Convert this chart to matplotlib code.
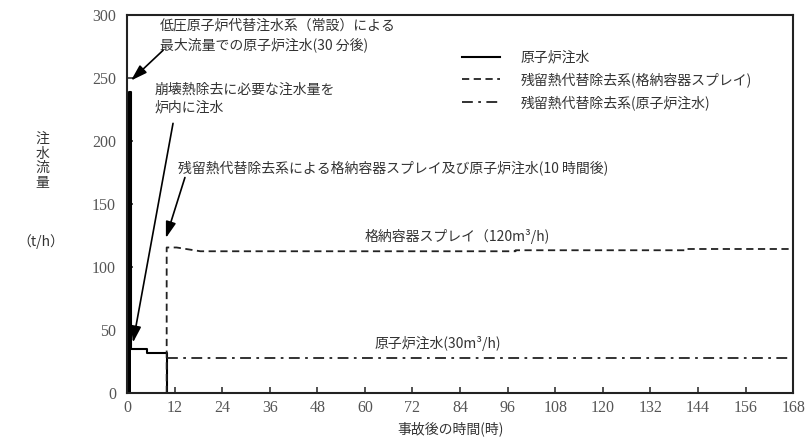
import matplotlib
matplotlib.use("Agg")
import matplotlib.pyplot as plt

plt.rcParams['font.family'] = ['Noto Sans CJK JP', 'DejaVu Sans']

# 原子炉注水 (solid)
t_rpv = [0, 0.5, 0.5, 1.0, 1.0, 5.0, 5.0, 10.0, 10.0]
q_rpv = [0, 0, 239, 239, 35, 35, 31.5, 31.5, 0]

# 残留熱代替除去系 (格納容器スプレイ)
t_spray = [10, 10, 12.5, 18.5, 98, 98, 141, 141, 168]
q_spray = [0, 115.5, 115.5, 112.5, 112.5, 113.3, 113.3, 114.3, 114.3]

# 残留熱代替除去系 (原子炉注水)
t_rhr = [10, 168]
q_rhr = [28, 28]

xticks = list(range(0, 169, 12))
yticks = [0, 50, 100, 150, 200, 250, 300]

fig = plt.figure(figsize=(8.05, 4.41), dpi=100)
ax = fig.add_axes([0.1578, 0.1088, 0.8274, 0.8572])

ax.plot(t_rpv, q_rpv, color='black', lw=1.5, label='原子炉注水')
ax.plot(t_spray, q_spray, color='#222222', lw=1.3, ls=(0, (4, 2.5)),
        label='残留熱代替除去系(格納容器スプレイ)')
ax.plot(t_rhr, q_rhr, color='#222222', lw=1.3, ls=(0, (6, 3, 1.5, 3)),
        label='残留熱代替除去系(原子炉注水)')
# thick bar for max flow
ax.fill_between([0.2, 1.0], 0, 239, color='black', lw=0)

ax.set_xlim(0, 168)
ax.set_ylim(0, 300)
ax.set_xticks(xticks)
ax.set_yticks(yticks)
ax.tick_params(direction='in', length=4, width=1.2, labelsize=11.5,
               colors='#333333')
ax.tick_params(axis='y', pad=8)
ax.tick_params(axis='x', pad=5)
for lab in ax.get_xticklabels() + ax.get_yticklabels():
    lab.set_family('Liberation Serif')
    lab.set_color('#555555')
for s in ax.spines.values():
    s.set_linewidth(1.5)
    s.set_color('#222222')

fs = 10
tc = '#333333'
arrow = dict(arrowstyle='-|>,head_length=0.7,head_width=0.22', color='black',
             lw=1.2, mutation_scale=14, shrinkA=0, shrinkB=0)

ax.text(8.3, 297, '低圧原子炉代替注水系（常設）による\n最大流量での原子炉注水(30 分後)',
        fontsize=fs, color=tc, va='top', ha='left', linespacing=1.35)
ax.annotate('', xy=(1.0, 248), xytext=(9.1, 272), arrowprops=arrow)
ax.text(7.0, 246, '崩壊熱除去に必要な注水量を\n炉内に注水',
        fontsize=fs, color=tc, va='top', ha='left', linespacing=1.35)
ax.annotate('', xy=(1.5, 40), xytext=(11.6, 214), arrowprops=arrow)
ax.text(12.9, 185, '残留熱代替除去系による格納容器スプレイ及び原子炉注水(10 時間後)',
        fontsize=fs, color=tc, va='top', ha='left')
ax.annotate('', xy=(9.8, 123), xytext=(14.6, 171), arrowprops=arrow)
ax.text(60, 124, '格納容器スプレイ（120m³/h)', fontsize=fs, color=tc,
        va='center', ha='left')
ax.text(62.5, 39, '原子炉注水(30m³/h)', fontsize=fs, color=tc,
        va='center', ha='left')

leg = ax.legend(loc='upper left', bbox_to_anchor=(0.495, 0.92), frameon=False,
                fontsize=fs, handlelength=2.7, handletextpad=1.5,
                labelspacing=0.55, borderaxespad=0)
for txt in leg.get_texts():
    txt.set_color(tc)

fig.text(0.053, 0.635, '注\n水\n流\n量', fontsize=fs, color=tc,
         ha='center', va='center', linespacing=1.05)
fig.text(0.051, 0.452, '（t/h）', fontsize=fs, color=tc, ha='center',
         va='center')
fig.text(0.56, 0.028, '事故後の時間(時)', fontsize=fs, color=tc,
         ha='center', va='center')

fig.savefig('out.png', dpi=100)
